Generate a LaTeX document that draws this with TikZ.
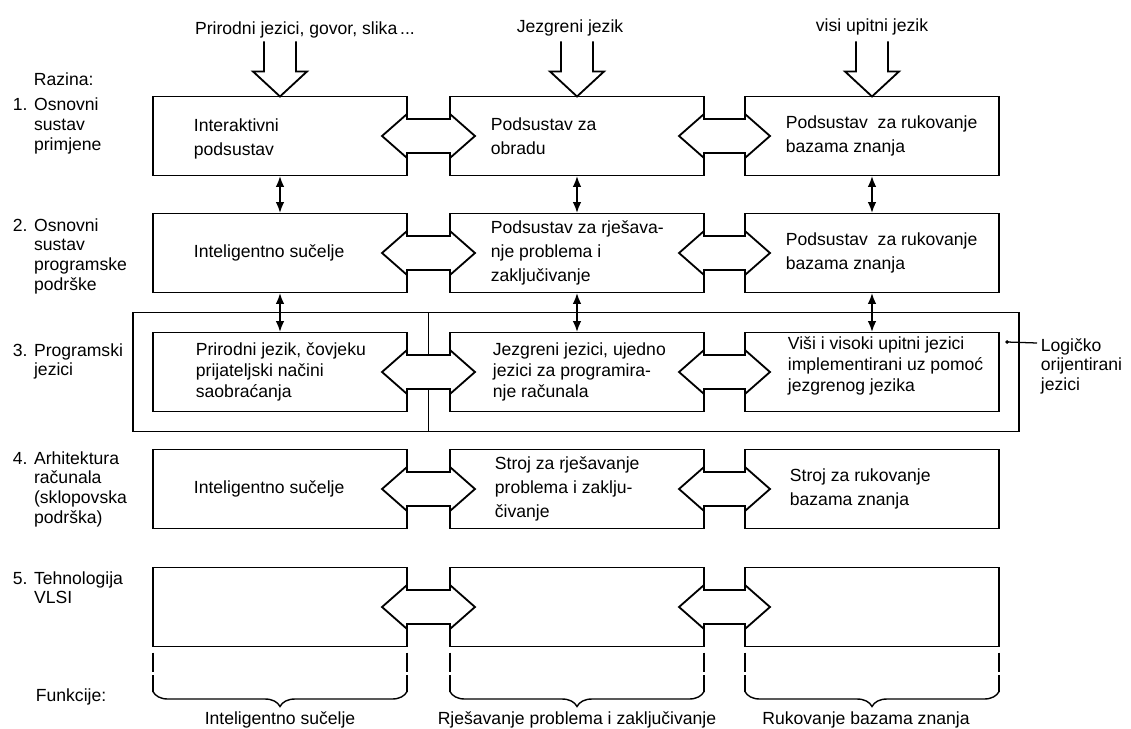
\documentclass[tikz,border=0pt]{standalone}
\usepackage{fontspec}
\setmainfont{Liberation Sans}
\usetikzlibrary{arrows.meta,positioning,calc,decorations.pathreplacing,fit}

% open arrow coming down into a box
\newcommand\feedarrow[1]{%
  \draw[fatline] ($(#1.north)+(-16,-55)$) -- ++(0,30) -- ++(-11,0) -- (#1.north)
    -- ++(27,-25) -- ++(-11,0) -- ++(0,-30);}
% wide two-way arrow between two boxes of a row
\newcommand\linkarrow[2]{%
  \filldraw[fatline,fill=white] ($(#1.east)+(0,-17)$) -- ($(#2.west)+(0,-17)$) -- ++(0,-5)
    -- ($(#2.west)+(25,0)$) -- ($(#2.west)+(0,22)$) -- ++(0,-5) -- ($(#1.east)+(0,17)$)
    -- ++(0,5) -- ($(#1.east)+(-25,0)$) -- ($(#1.east)+(0,-22)$) -- cycle;}

\begin{document}
\begin{tikzpicture}[x=0.025cm,y=-0.025cm,line width=1.3pt,font=\fontsize{12.5}{17}\selectfont,
  box/.style={draw,minimum width=6.35cm,minimum height=1.975cm,outer sep=0pt,inner sep=0pt},
  txt/.style={align=left,inner sep=0pt},
  tight/.style={txt,font=\fontsize{12.5}{15.2}\selectfont},
  lvl/.style={anchor=base west,inner sep=0pt,font=\fontsize{12.5}{14.2}\selectfont},
  fatline/.style={line width=1.3pt,line join=miter},
  vlink/.style={line width=1.6pt,{Latex[length=8pt,width=6pt]}-{Latex[length=8pt,width=6pt]}},
  tick/.style={line width=1pt,dash pattern=on 14pt off 2pt},
  fnbrace/.style={line width=1pt,decorate,decoration={brace,mirror,amplitude=0.375cm}},
  fnlbl/.style={anchor=base,inner sep=0pt}]
\useasboundingbox (0,0) rectangle (1131,729);

% levels
\node[lvl] (z0) at (33,86) {Razina:};
\node[lvl] (z1) at (12,111) {\begin{tabular}[t]{@{}r@{ }l@{}}1. & Osnovni\\ & sustav\\ & primjene\end{tabular}};
\node[lvl] (z2) at (12,231) {\begin{tabular}[t]{@{}r@{ }l@{}}2. & Osnovni\\ & sustav\\ & programske\\ & podrške\end{tabular}};
\node[lvl] (z3) at (12,356) {\begin{tabular}[t]{@{}r@{ }l@{}}3. & Programski\\ & jezici\end{tabular}};
\node[lvl] (z4) at (12,464) {\begin{tabular}[t]{@{}r@{ }l@{}}4. & Arhitektura\\ & računala\\ & (sklopovska\\ & podrška)\end{tabular}};
\node[lvl] (z5) at (12,584) {\begin{tabular}[t]{@{}r@{ }l@{}}5. & Tehnologija\\ & VLSI\end{tabular}};
\node[lvl] (fn) at (35,701) {Funkcije:};

% inputs
\node[fnlbl] (in1) at (305,35) {Prirodni jezici, govor, slika\,...};
\node[fnlbl] (in2) at (570,33) {Jezgreni jezik};
\node[fnlbl] (in3) at (872,32) {visi upitni jezik};

% boxes
\node[box] (b11) at (280,136) {};
\node[box] (b12) at (577,136) {};
\node[box] (b13) at (872,136) {};
\node[box] (b21) at (280,253) {};
\node[box] (b22) at (577,253) {};
\node[box] (b23) at (872,253) {};
\node[box] (b31) at (280,372) {};
\node[box] (b32) at (577,372) {};
\node[box] (b33) at (872,372) {};
\node[box] (b41) at (280,489) {};
\node[box] (b42) at (577,489) {};
\node[box] (b43) at (872,489) {};
\node[box] (b51) at (280,607) {};
\node[box] (b52) at (577,607) {};
\node[box] (b53) at (872,607) {};

% frame round the language level
\node[draw,fit=(b31)(b33),inner sep=0.5cm,outer sep=0pt] (frame) {};
\coordinate (gap) at ($(b31.east)!0.5!(b32.west)$);
\draw (frame.north -| gap) -- (frame.south -| gap);
\coordinate (lead) at ($(frame.east)+(-12,-30)$);
\node[lvl] (logic) at (1040,351) {\begin{tabular}[t]{@{}l@{}}Logičko\\orijentirani\\jezici\end{tabular}};
\fill (lead) circle (1.4pt);
\draw[line width=0.9pt] (lead) -- ($(logic.base west)+(-3,-8)$);

% arrows
\feedarrow{b11}
\feedarrow{b12}
\feedarrow{b13}
\draw[vlink] (b11.south) -- (b21.north);
\draw[vlink] (b12.south) -- (b22.north);
\draw[vlink] (b13.south) -- (b23.north);
\draw[vlink] (b21.south) -- (b31.north);
\draw[vlink] (b22.south) -- (b32.north);
\draw[vlink] (b23.south) -- (b33.north);
\linkarrow{b11}{b12}
\linkarrow{b12}{b13}
\linkarrow{b21}{b22}
\linkarrow{b22}{b23}
\linkarrow{b31}{b32}
\linkarrow{b32}{b33}
\linkarrow{b41}{b42}
\linkarrow{b42}{b43}
\linkarrow{b51}{b52}
\linkarrow{b52}{b53}

% box texts
\node[txt,right=1cm of b11.west,yshift=-0.08cm] (t11) {Interaktivni\\podsustav};
\node[txt,right=1cm of b12.west] (t12) {Podsustav za\\obradu};
\node[txt,right=1cm of b13.west] (t13) {Podsustav\ \ za rukovanje\\bazama znanja};
\node[txt,right=1cm of b21.west] (t21) {Inteligentno sučelje};
\node[txt,right=1cm of b22.west] (t22) {Podsustav za rješava-\\nje problema i\\zaključivanje};
\node[txt,right=1cm of b23.west] (t23) {Podsustav\ \ za rukovanje\\bazama znanja};
\node[tight,right=1.05cm of b31.west] (t31) {Prirodni jezik, čovjeku\\prijateljski načini\\saobraćanja};
\node[tight,right=1.05cm of b32.west] (t32) {Jezgreni jezici, ujedno\\jezici za programira-\\nje računala};
\node[tight,right=1.05cm of b33.west,yshift=0.15cm] (t33) {Viši i visoki upitni jezici\\implementirani uz pomoć\\jezgrenog jezika};
\node[txt,right=1cm of b41.west] (t41) {Inteligentno sučelje};
\node[txt,right=1.1cm of b42.west] (t42) {Stroj za rješavanje\\problema i zaklju-\\čivanje};
\node[txt,right=1.1cm of b43.west] (t43) {Stroj za rukovanje\\bazama znanja};

% functions
\foreach \c in {1,2,3} {
  \draw[tick] ($(b5\c.south west)+(0,6)$) -- ++(0,39);
  \draw[tick] ($(b5\c.south east)+(0,6)$) -- ++(0,39);
  \draw[fnbrace] ($(b5\c.south west)+(0,45)$) -- ($(b5\c.south east)+(0,45)$);
}
\node[fnlbl] (f1) at (280,724) {Inteligentno sučelje};
\node[fnlbl] (f2) at (577,724) {Rješavanje problema i zaključivanje};
\node[fnlbl] (f3) at (866,724) {Rukovanje bazama znanja};
\end{tikzpicture}
\end{document}
